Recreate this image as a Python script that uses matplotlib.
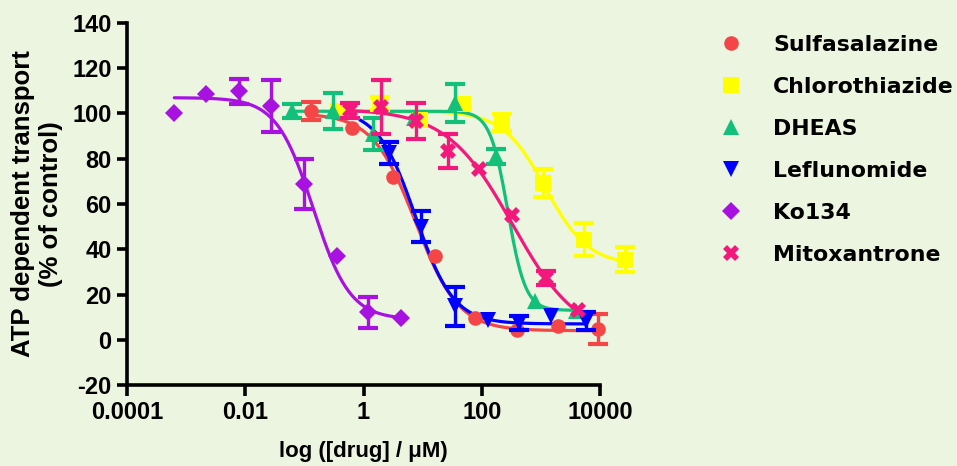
import numpy as np
import matplotlib
matplotlib.use('Agg')
import matplotlib.pyplot as plt
from matplotlib.lines import Line2D

# ---------------- data ----------------
names = ['Sulfasalazine', 'Chlorothiazide', 'DHEAS', 'Leflunomide', 'Ko134', 'Mitoxantrone']
colors = ['#f44646', '#ffff00', '#12c07a', '#0000ff', '#a812e0', '#f2187c']
markers = ['o', 's', '^', 'v', 'D', 'X']

sulfa_conc = [0.13, 0.65, 3.2, 16, 78, 390, 1950, 9400]
sulfa_y = [101, 93.6, 72, 36.9, 9.6, 4.4, 5.9, 4.7]
sulfa_err = [4, 0, 0, 0, 0, 0, 0, 6.6]

chloro_conc = [0.37, 1.9, 8.9, 48, 224, 1070, 5370, 26900]
chloro_y = [101, 104.5, 97, 104, 96, 69.3, 44.2, 35.4]
chloro_err = [0, 3, 0, 0, 3.6, 6.3, 7.2, 5.5]

dheas_conc = [0.062, 0.30, 1.45, 7.2, 35, 174, 810, 3900]
dheas_y = [101, 101, 91, 98, 104.7, 81, 17, 12.5]
dheas_err = [3, 8, 7, 0, 8.5, 3.5, 0, 0]

lef_conc = [2.75, 9.5, 35, 126, 427, 1480, 5750]
lef_y = [82.6, 50, 14.7, 8.8, 7.4, 10.3, 8.1]
lef_err = [5, 7, 8.5, 0, 3.3, 0, 4]

ko_conc = [0.00063, 0.0022, 0.0078, 0.0275, 0.098, 0.35, 1.2, 4.3]
ko_y = [100.3, 108.4, 109.9, 103.5, 68.9, 37.2, 12.1, 9.6]
ko_err = [0, 0, 5.5, 11.5, 11, 0, 7, 0]

mito_conc = [0.60, 2.0, 7.6, 27, 91, 330, 1200, 4200]
mito_y = [101.4, 103, 96.6, 83.5, 75.5, 55.3, 27.3, 13]
mito_err = [3.4, 12, 8, 7.5, 0, 0, 3, 0]

# fitted sigmoidal dose-response parameters
fit_top = [100, 101, 101, 102, 107, 102]
fit_bottom = [4, 33, 13, 7, 9, 0]
fit_logec50 = [0.88, 3.08, 2.44, 0.88, -0.85, 2.52]
fit_hill = [1.2, 1.2, 2.9, 1.35, 1.4, 0.78]
fit_xmin = [0.13, 0.37, 0.062, 0.87, 0.00063, 0.60]
fit_xmax = [9400, 26900, 3900, 5750, 4.3, 4200]

x_ticks = [1e-4, 1e-2, 1, 1e2, 1e4]
x_tick_labels = ['0.0001', '0.01', '1', '100', '10000']
y_ticks = [-20, 0, 20, 40, 60, 80, 100, 120, 140]

series = [
    (sulfa_conc, sulfa_y, sulfa_err),
    (chloro_conc, chloro_y, chloro_err),
    (dheas_conc, dheas_y, dheas_err),
    (lef_conc, lef_y, lef_err),
    (ko_conc, ko_y, ko_err),
    (mito_conc, mito_y, mito_err),
]
msizes = [10.5, 11, 11, 11, 9.5, 11]

# ---------------- figure ----------------
bg = '#ecf5e0'
plt.rcParams['font.family'] = ['DejaVu Sans']
plt.rcParams['font.weight'] = 'bold'
plt.rcParams['axes.unicode_minus'] = False
fig = plt.figure(figsize=(9.57, 4.66), dpi=100, facecolor=bg)
W, H = 957, 466
ax = fig.add_axes([127 / W, 1 - 385 / H, (600 - 127) / W, (385 - 23) / H])
ax.set_facecolor(bg)

draw_order = [4, 1, 2, 0, 3, 5]
for z, i in enumerate(draw_order):
    cx, cy, ce = (np.asarray(a, dtype=float) for a in series[i])
    col = colors[i]
    xs = np.logspace(np.log10(fit_xmin[i]), np.log10(fit_xmax[i]), 300)
    ys = fit_bottom[i] + (fit_top[i] - fit_bottom[i]) / (1 + 10 ** (fit_hill[i] * (np.log10(xs) - fit_logec50[i])))
    ax.plot(xs, ys, color=col, lw=2.3, zorder=2 + z * 0.1, solid_capstyle='round', clip_on=False)
    m = ce > 0
    eb = ax.errorbar(cx[m], cy[m], yerr=ce[m], fmt='none', ecolor=col, elinewidth=2.4,
                     capsize=7, capthick=3, zorder=3 + z * 0.1)
    for art in eb.lines[1] + eb.lines[2]:
        art.set_clip_on(False)
    ax.plot(cx, cy, linestyle='none', marker=markers[i], ms=msizes[i], color=col,
            markeredgewidth=0, zorder=3.05 + z * 0.1, clip_on=False)

ax.set_xscale('log')
ax.set_xlim(1e-4, 1e4)
ax.set_ylim(-20, 140)
ax.set_xticks(x_ticks)
ax.set_xticklabels(x_tick_labels)
ax.minorticks_off()
ax.set_yticks(y_ticks)
for s in ['top', 'right']:
    ax.spines[s].set_visible(False)
for s in ['left', 'bottom']:
    ax.spines[s].set_linewidth(2.6)
ax.tick_params(axis='x', direction='out', length=8, width=2.6, pad=3.5)
ax.tick_params(axis='y', direction='out', length=7.5, width=2.6, pad=3.5)
for lab in ax.get_xticklabels() + ax.get_yticklabels():
    lab.set_fontfamily('Liberation Sans')
    lab.set_fontweight('bold')
    lab.set_fontsize(17)

fig.text(363.5 / W, 1 - 451 / H, 'log ([drug] / μM)', ha='center', va='center',
         fontsize=16, fontweight='bold', family='Liberation Sans')
fig.text(37 / W, 1 - 204 / H, 'ATP dependent transport\n(% of control)', ha='center',
         va='center', rotation=90, fontsize=18.5, fontweight='bold', linespacing=1.2,
         multialignment='center', family='Liberation Sans')

handles = [Line2D([], [], linestyle='none', marker=markers[i], ms=msizes[i], color=colors[i],
                  markeredgewidth=0) for i in range(6)]
leg = fig.legend(handles, names, loc='upper left', bbox_to_anchor=(720 / W, 1 - 35 / H),
                 frameon=False, fontsize=15.8, handlelength=1.0, handletextpad=1.42,
                 labelspacing=1.0, borderpad=0, borderaxespad=0)
for t in leg.get_texts():
    t.set_fontweight('bold')

fig.savefig('out.png', dpi=100, facecolor=bg)
